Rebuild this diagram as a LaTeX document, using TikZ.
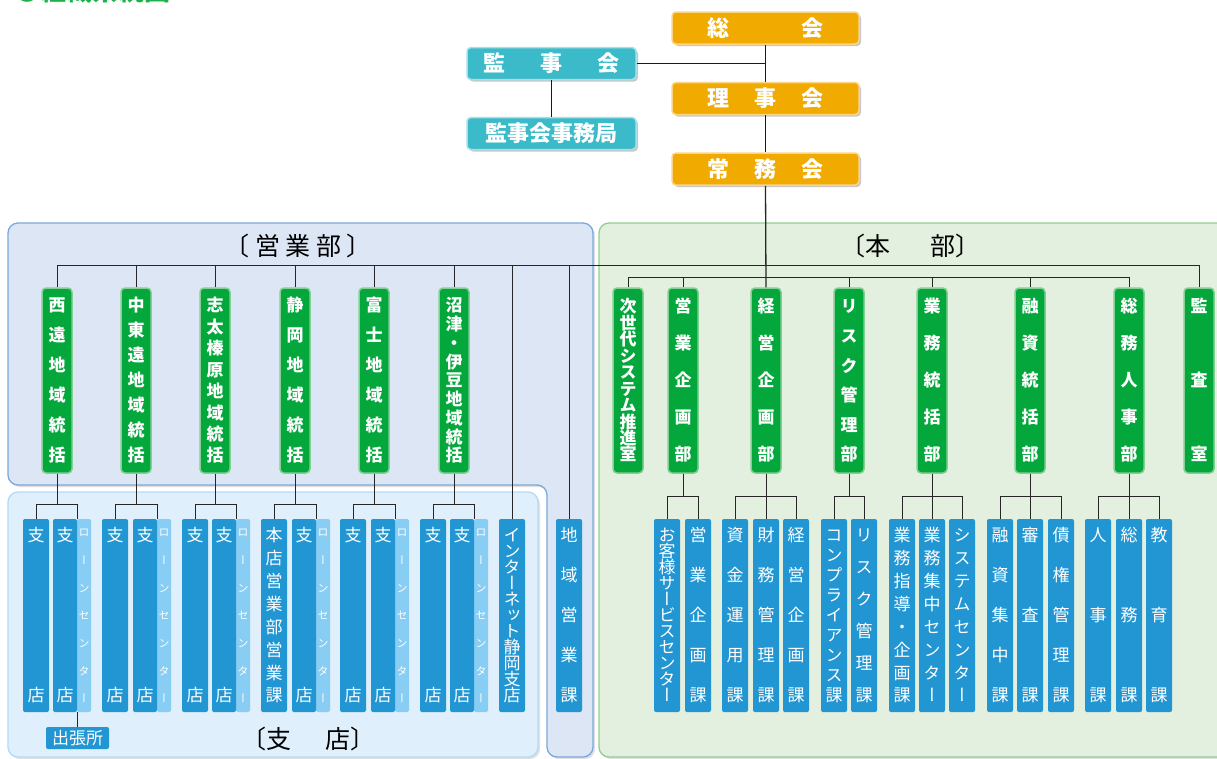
\documentclass[tikz,border=0pt]{standalone}
\usepackage{fontspec}
\usetikzlibrary{shadows}
\newfontfamily\jp{Noto Sans CJK JP}
\newfontfamily\jpv[RawFeature=+vert]{Noto Sans CJK JP}
\definecolor{cOrange}{HTML}{F0AA00}
\definecolor{cOrangeL}{HTML}{F9D48A}
\definecolor{cTeal}{HTML}{3BBAC9}
\definecolor{cTealL}{HTML}{A6DFE7}
\definecolor{cGreen}{HTML}{03A73C}
\definecolor{cGreenL}{HTML}{84CF93}
\definecolor{cBlue}{HTML}{2196D3}
\definecolor{cBlueL}{HTML}{88CDF3}
\definecolor{pEigyo}{HTML}{DCE6F4}
\definecolor{pEigyoB}{HTML}{7AA8DC}
\definecolor{pShiten}{HTML}{DFEFFC}
\definecolor{pShitenB}{HTML}{B4DAF5}
\definecolor{pHonbu}{HTML}{E3EFDF}
\definecolor{pHonbuB}{HTML}{92CE92}
\definecolor{cTitle}{HTML}{1DB14B}
\makeatletter
\def\vt@stop{\vt@stop}
\def\vt@box#1{\hbox to 1em{\hss\vrule width0pt height.83em depth.07em\smash{#1}\hss}}
\def\vt@first#1{\vt@box{#1}\vt@loop}
\def\vt@loop#1{\ifx\vt@stop#1\else\vfill\vt@box{#1}\expandafter\vt@loop\fi}
\newcommand\vt[2]{\vbox to \dimexpr#1+.83em\relax{\offinterlineskip\vt@first#2\vt@stop}}
\makeatother
\tikzset{
  conn/.style={draw=black!85, line width=1pt},
  topconn/.style={draw=black!90, line width=1.5pt},
  shad/.style={drop shadow={shadow xshift=2pt, shadow yshift=-2pt, opacity=.22, fill=black}},
  pshad/.style={drop shadow={shadow xshift=2pt, shadow yshift=-2pt, opacity=.12, fill=black}},
  topbox/.style={fill=cOrange, draw=cOrangeL, line width=1.5pt, rounded corners=4pt,
    minimum width=187pt, minimum height=32pt, inner sep=0pt, text=white,
    text height=19.4pt, text depth=2.6pt,
    font=\jp\bfseries\fontsize{22}{22}\selectfont, shad},
  tealbox/.style={topbox, fill=cTeal, draw=cTealL, minimum width=169pt},
  gbox/.style={fill=cGreen, draw=cGreenL, line width=1.5pt, rounded corners=4pt,
    minimum width=30pt, minimum height=185pt, inner sep=0pt, text=white,
    font=\jpv\bfseries\fontsize{17}{17}\selectfont},
  bbox/.style={fill=cBlue, rounded corners=2pt, minimum width=26pt, minimum height=193pt,
    inner sep=0pt, text=white, font=\jpv\fontsize{17}{17}\selectfont},
  dbox/.style={bbox, minimum width=24pt},
  lbox/.style={bbox, fill=cBlueL, minimum width=14pt, font=\jpv\fontsize{11}{11}\selectfont},
  plabel/.style={inner sep=0pt, text=black, text height=22pt, text depth=3pt,
    font=\jp\fontsize{25}{25}\selectfont},
  panelE/.style={draw=pEigyoB, fill=pEigyo, line width=1.3pt, rounded corners=10pt, pshad},
  panelS/.style={draw=pShitenB, fill=pShiten, line width=1.3pt, rounded corners=10pt, pshad},
  panelH/.style={draw=pHonbuB, fill=pHonbu, line width=1.3pt, rounded corners=10pt, pshad},
}
\begin{document}
\begin{tikzpicture}[x=1pt,y=-1pt]
\useasboundingbox (0,0) rectangle (1217,758);
\fill[white] (0,0) rectangle (1217,758);
% title (cut off at the top)
\node[anchor=base west, inner sep=0pt, text=cTitle, font=\jp\bfseries\fontsize{26}{26}\selectfont] (title) at (14,0) {●組織系統図};
% panels
\path[panelE] (8,223) -- (593,223) -- (593,757) -- (547,757) -- (547,485) -- (8,485) -- cycle;
\path[panelS] (8,492) rectangle (538,757);
\path[panelH] (599,223) rectangle (1240,757);
\node[plabel] (lEigyo) at (298,245.5) {\hbox to 147pt{〔\hfill 営\hfill 業\hfill 部\hfill 〕}};
\node[plabel] (lHonbu) at (910,245.5) {\hbox to 140pt{〔本\hfill 部〕}};
\node[plabel] (lShiten) at (308,739) {\hbox to 134pt{〔支\hfill 店〕}};
% top
\node[topbox] (soukai) at (765.5,28) {\hbox to 116pt{総\hfill 会}};
\node[topbox] (rijikai) at (765.5,98.5) {\hbox to 116pt{理\hfill 事\hfill 会}};
\node[topbox] (jomukai) at (765.5,169) {\hbox to 116pt{常\hfill 務\hfill 会}};
\node[tealbox] (kanjikai) at (551.5,63.5) {\hbox to 136pt{監\hfill 事\hfill 会}};
\node[tealbox] (kjimu) at (551.5,133.5) {監事会事務局};
% eigyo green
\node[gbox] (g1) at (57,380.5) {\vt{150pt}{西遠地域統括}};
\node[gbox] (g2) at (136,380.5) {\vt{150pt}{中東遠地域統括}};
\node[gbox] (g3) at (215,380.5) {\vt{150pt}{志太榛原地域統括}};
\node[gbox] (g4) at (295,380.5) {\vt{150pt}{静岡地域統括}};
\node[gbox] (g5) at (374,380.5) {\vt{150pt}{富士地域統括}};
\node[gbox] (g6) at (454,380.5) {\vt{150pt}{沼津・伊豆地域統括}};
% honbu green
\node[gbox] (h1) at (628,380.5) {\vt{148pt}{次世代システム推進室}};
\node[gbox] (h2) at (683,380.5) {\vt{148pt}{営業企画部}};
\node[gbox] (h3) at (766,380.5) {\vt{148pt}{経営企画部}};
\node[gbox] (h4) at (849,380.5) {\vt{148pt}{リスク管理部}};
\node[gbox] (h5) at (932,380.5) {\vt{148pt}{業務統括部}};
\node[gbox] (h6) at (1030,380.5) {\vt{148pt}{融資統括部}};
\node[gbox] (h7) at (1129,380.5) {\vt{148pt}{総務人事部}};
\node[gbox] (h8) at (1199,380.5) {\vt{148pt}{監査室}};
% branches
\node[bbox] (s1) at (36,615.5) {\vt{160pt}{支店}};
\node[lbox] (s2l) at (84,615.5) {\vt{166pt}{ローンセンター}};
\node[dbox] (s2) at (65,615.5) {\vt{160pt}{支店}};
\node[bbox] (s3) at (115,615.5) {\vt{160pt}{支店}};
\node[lbox] (s4l) at (164,615.5) {\vt{166pt}{ローンセンター}};
\node[dbox] (s4) at (145,615.5) {\vt{160pt}{支店}};
\node[bbox] (s5) at (195,615.5) {\vt{160pt}{支店}};
\node[lbox] (s6l) at (243,615.5) {\vt{166pt}{ローンセンター}};
\node[dbox] (s6) at (224,615.5) {\vt{160pt}{支店}};
\node[bbox] (s7) at (274,615.5) {\vt{160pt}{本店営業部営業課}};
\node[lbox] (s8l) at (323,615.5) {\vt{166pt}{ローンセンター}};
\node[dbox] (s8) at (304,615.5) {\vt{160pt}{支店}};
\node[bbox] (s9) at (353,615.5) {\vt{160pt}{支店}};
\node[lbox] (s10l) at (402,615.5) {\vt{166pt}{ローンセンター}};
\node[dbox] (s10) at (383,615.5) {\vt{160pt}{支店}};
\node[bbox] (s11) at (433,615.5) {\vt{160pt}{支店}};
\node[lbox] (s12l) at (481,615.5) {\vt{166pt}{ローンセンター}};
\node[dbox] (s12) at (462,615.5) {\vt{160pt}{支店}};
\node[bbox] (s13) at (512,615.5) {\vt{160pt}{インターネット静岡支店}};
\node[bbox] (s14) at (569,615.5) {\vt{160pt}{地域営業課}};
\node[fill=cBlue, rounded corners=2pt, minimum width=63pt, minimum height=22pt, inner sep=0pt,
  text=white, text height=14.8pt, text depth=2pt, font=\jp\fontsize{17}{17}\selectfont] (dep) at (77.5,738) {出張所};
% honbu sections
\node[bbox] (k1) at (667,615.5) {\vt{160pt}{お客様サービスセンター}};
\node[bbox] (k2) at (698,615.5) {\vt{160pt}{営業企画課}};
\node[bbox] (k3) at (735,615.5) {\vt{160pt}{資金運用課}};
\node[bbox] (k4) at (766,615.5) {\vt{160pt}{財務管理課}};
\node[bbox] (k5) at (796,615.5) {\vt{160pt}{経営企画課}};
\node[bbox] (k6) at (834,615.5) {\vt{160pt}{コンプライアンス課}};
\node[bbox] (k7) at (864,615.5) {\vt{160pt}{リスク管理課}};
\node[bbox] (k8) at (902,615.5) {\vt{160pt}{業務指導・企画課}};
\node[bbox] (k9) at (932,615.5) {\vt{160pt}{業務集中センター}};
\node[bbox] (k10) at (962,615.5) {\vt{160pt}{システムセンター}};
\node[bbox] (k11) at (1000,615.5) {\vt{160pt}{融資集中課}};
\node[bbox] (k12) at (1030,615.5) {\vt{160pt}{審査課}};
\node[bbox] (k13) at (1061,615.5) {\vt{160pt}{債権管理課}};
\node[bbox] (k14) at (1098,615.5) {\vt{160pt}{人事課}};
\node[bbox] (k15) at (1129,615.5) {\vt{160pt}{総務課}};
\node[bbox] (k16) at (1159,615.5) {\vt{160pt}{教育課}};
% helper coordinates
\coordinate (bus) at (0,265);
\coordinate (hbus) at (0,277);
\coordinate (bk) at (0,504);
\coordinate (hk) at (0,496);
% top connectors
\draw[topconn] (soukai.south) -- (rijikai.north);
\draw[topconn] (rijikai.south) -- (jomukai.north);
\draw[topconn] (kanjikai.east) -- (kanjikai.east -| soukai.south);
\draw[topconn] (kanjikai.south) -- (kjimu.north);
\draw[conn, line width=1.3pt] (jomukai.south) -- (h3.north);
% buses
\draw[conn] (g1.north) -- (g1.north |- bus) -- (h8.north |- bus) -- (h8.north);
\foreach \n in {g2,g3,g4,g5,g6,s13,s14} \draw[conn] (\n.north) -- (\n.north |- bus);
\draw[conn] (h1.north) -- (h1.north |- hbus) -- (h7.north |- hbus) -- (h7.north);
\foreach \n in {h2,h4,h5,h6} \draw[conn] (\n.north) -- (\n.north |- hbus);
% branch brackets
\foreach \p/\a/\b in {g1/s1/s2, g2/s3/s4, g3/s5/s6, g4/s7/s8, g5/s9/s10, g6/s11/s12} {
  \draw[conn] (\p.south) -- (\p.south |- bk);
  \draw[conn] (\a.north) -- (\a.north |- bk) -- (\b.north east |- bk) -- (\b.north east);
}
\draw[conn] (s2.south east) -- (s2.south east |- dep.north);
% honbu brackets
\foreach \p/\a/\b in {h2/k1/k2, h3/k3/k5, h4/k6/k7, h5/k8/k10, h6/k11/k13, h7/k14/k16} {
  \draw[conn] (\p.south) -- (\p.south |- hk);
  \draw[conn] (\a.north) -- (\a.north |- hk) -- (\b.north |- hk) -- (\b.north);
}
\foreach \p/\m in {h3/k4, h5/k9, h6/k12, h7/k15} \draw[conn] (\p.south |- hk) -- (\m.north);
\end{tikzpicture}
\end{document}
